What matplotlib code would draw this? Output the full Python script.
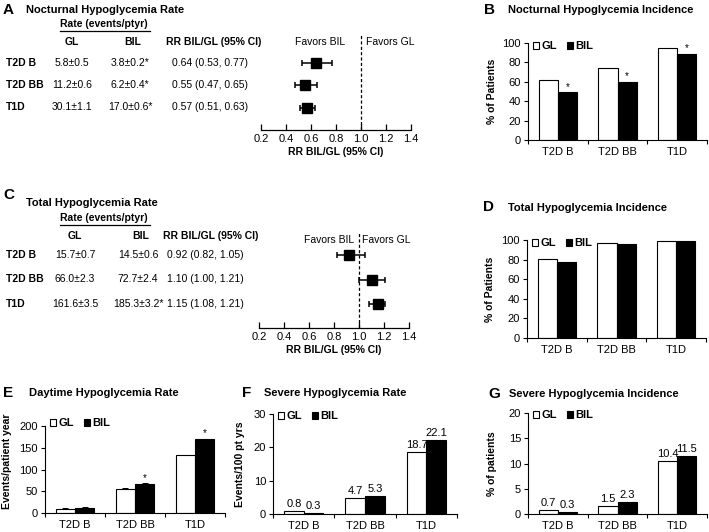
import matplotlib
matplotlib.use("Agg")
import matplotlib.pyplot as plt
import matplotlib.transforms as mtransforms
from matplotlib.patches import Patch
import numpy as np

plt.rcParams['font.family'] = ['Liberation Sans', 'DejaVu Sans']

# ---------------- data ----------------
groups = ['T2D B', 'T2D BB', 'T1D']

# Panel A: nocturnal hypoglycemia rate
A_gl = ['5.8±0.5', '11.2±0.6', '30.1±1.1']
A_bil = ['3.8±0.2*', '6.2±0.4*', '17.0±0.6*']
A_rr = [0.64, 0.55, 0.57]
A_lo = [0.53, 0.47, 0.51]
A_hi = [0.77, 0.65, 0.63]

# Panel C: total hypoglycemia rate
C_gl = ['15.7±0.7', '66.0±2.3', '161.6±3.5']
C_bil = ['14.5±0.6', '72.7±2.4', '185.3±3.2*']
C_rr = [0.92, 1.10, 1.15]
C_lo = [0.82, 1.00, 1.08]
C_hi = [1.05, 1.21, 1.21]

rr_ticks = [0.2, 0.4, 0.6, 0.8, 1.0, 1.2, 1.4]

# Panel B: nocturnal incidence (%)
B_gl = [62, 74, 95]
B_bil = [49, 60, 89]
B_star = [True, True, True]

# Panel D: total incidence (%)
D_gl = [81, 97, 99]
D_bil = [78, 96, 99]

# Panel E: daytime rate (events/patient year)
E_gl = [10, 56, 133]
E_bil = [12, 67, 169]
E_gl_err = [0.8, 1.0, 1.2]
E_bil_err = [0.8, 1.2, 1.5]
E_star = [False, True, True]

# Panel F: severe rate (events/100 pt yrs)
F_gl = [0.8, 4.7, 18.7]
F_bil = [0.3, 5.3, 22.1]

# Panel G: severe incidence (%)
G_gl = [0.7, 1.5, 10.4]
G_bil = [0.3, 2.3, 11.5]

# ---------------- layout helpers ----------------
W, H = 709, 532
fig = plt.figure(figsize=(W / 100, H / 100), dpi=100)


def ax_px(l, t, r, b):
    return fig.add_axes([l / W, 1 - b / H, (r - l) / W, (b - t) / H])


def ftext(x, y, s, **kw):
    fig.text(x / W, 1 - y / H, s, **kw)


LETTER = dict(fontsize=11, fontweight='bold', va='center', ha='left')
TITLE = dict(fontsize=8, fontweight='bold', va='center', ha='left')


# ---------------- forest + table panels ----------------
def forest_panel(rr, lo, hi, gl, bil, axbox, row0, drow, favors, letter, title,
                 letter_y, title_y, sub_y, head_y, cols):
    l, t, r, b = axbox
    ax = ax_px(l, t, r, b)
    n = len(rr)
    idx = np.arange(n)
    ax.set_xlim(0.2, 1.4)
    ax.set_ylim((b - row0) / drow, (t - row0) / drow)
    rr_a = np.array(rr)
    xerr = np.vstack([rr_a - np.array(lo), np.array(hi) - rr_a])
    ax.errorbar(rr, idx, xerr=xerr, fmt='s', color='black', ms=7.5,
                elinewidth=1.1, capsize=2.5, capthick=1.1)
    ax.axvline(1.0, color='black', ls=(0, (2.5, 1.8)), lw=0.9)
    for s in ['top', 'right', 'left']:
        ax.spines[s].set_visible(False)
    ax.spines['bottom'].set_linewidth(0.9)
    ax.set_yticks([])
    ax.set_xticks(rr_ticks)
    ax.set_xticklabels([f'{v:.1f}' for v in rr_ticks])
    ax.tick_params(axis='x', direction='in', length=4, width=0.9,
                   labelsize=8, pad=3)
    ax.set_xlabel('RR BIL/GL (95% CI)', fontsize=7.5, fontweight='bold',
                  labelpad=2)
    (fb_x, fg_x, fav_y) = favors
    ax.text(fb_x, fav_y, 'Favors BIL', ha='right', va='center', fontsize=7.5)
    ax.text(fg_x, fav_y, 'Favors GL', ha='left', va='center', fontsize=7.5)

    # table text, rows tied to the forest rows
    tr = mtransforms.blended_transform_factory(fig.transFigure, ax.transData)
    lab_x, gl_x, bil_x, rr_x, rrh_x = cols
    for i in range(n):
        fig.text(lab_x / W, i, groups[i], transform=tr, ha='left',
                 va='center', fontsize=7.5, fontweight='bold')
        fig.text(gl_x / W, i, gl[i], transform=tr, ha='center',
                 va='center', fontsize=7.5)
        fig.text(bil_x / W, i, bil[i], transform=tr, ha='center',
                 va='center', fontsize=7.5)
        fig.text(rr_x / W, i, f'{rr[i]:.2f} ({lo[i]:.2f}, {hi[i]:.2f})',
                 transform=tr, ha='left', va='center', fontsize=7.5)
    ftext(gl_x, head_y, 'GL', ha='center', va='center', fontsize=7.5,
          fontweight='bold')
    ftext(bil_x + 3, head_y, 'BIL', ha='center', va='center', fontsize=7.5,
          fontweight='bold')
    ftext(rrh_x, head_y, 'RR BIL/GL (95% CI)', ha='left', va='center',
          fontsize=7.5, fontweight='bold')
    ftext(60, sub_y, 'Rate (events/ptyr)', ha='left', va='center',
          fontsize=7.5, fontweight='bold')
    fig.add_artist(plt.Line2D([60 / W, 150 / W],
                              [1 - (sub_y + 7) / H, 1 - (sub_y + 7) / H],
                              color='black', lw=0.9))
    ftext(3, letter_y, letter, **LETTER)
    ftext(26, title_y, title, **TITLE)
    return ax


forest_panel(A_rr, A_lo, A_hi, A_gl, A_bil, (261, 35, 411, 130), 62.5, 22.5,
             (0.875, 1.04, -0.91), 'A', 'Nocturnal Hypoglycemia Rate',
             10, 10, 24, 42, (6, 72, 130, 172, 166))

forest_panel(C_rr, C_lo, C_hi, C_gl, C_bil, (259, 232, 409, 328), 255, 24.5,
             (0.965, 1.025, -0.62), 'C', 'Total Hypoglycemia Rate',
             195, 203, 218, 236, (6, 75, 138, 167, 163))


# ---------------- bar panels ----------------
def bar_panel(box, gl, bil, ymax, step, ylabel, ylab_x, letter, title,
              letter_pos, title_pos, err=None, stars=None, labels=False,
              leg_y=1.0, ylab_y=0.5):
    l, t, r, b = box
    ax = ax_px(l, t, r, b)
    x = np.arange(len(groups))
    w = 0.32
    kw = dict(edgecolor='black', linewidth=0.8)
    if err is not None:
        e_gl, e_bil = err
        ekw = dict(elinewidth=0.7, capsize=2.5, capthick=0.7, ecolor='black')
        ax.bar(x - w / 2, gl, w, color='white', yerr=[np.zeros(3), e_gl],
               error_kw=ekw, **kw)
        ax.bar(x + w / 2, bil, w, color='black', yerr=[np.zeros(3), e_bil],
               error_kw=ekw, **kw)
    else:
        ax.bar(x - w / 2, gl, w, color='white', **kw)
        ax.bar(x + w / 2, bil, w, color='black', **kw)
    if stars is not None:
        top = bil if err is None else np.array(bil) + np.array(err[1])
        for i, s in enumerate(stars):
            if s:
                ax.annotate('*', (x[i] + w / 2, top[i]), xytext=(0, 0.5),
                            textcoords='offset points', ha='center',
                            va='bottom', fontsize=7)
    if labels:
        for i in range(len(groups)):
            ax.annotate(f'{gl[i]:.1f}', (x[i] - w / 2, gl[i]), xytext=(0, 1.5),
                        textcoords='offset points', ha='center', va='bottom',
                        fontsize=8)
            ax.annotate(f'{bil[i]:.1f}', (x[i] + w / 2, bil[i]),
                        xytext=(0, 1.5), textcoords='offset points',
                        ha='center', va='bottom', fontsize=8)
    ax.set_xlim(-0.5, 2.5)
    ax.set_ylim(0, ymax)
    ax.set_yticks(np.arange(0, ymax + 0.01, step))
    ax.set_xticks(x)
    ax.set_xticklabels(groups)
    ax.set_xticks([-0.5, 0.5, 1.5, 2.5], minor=True)
    ax.tick_params(axis='x', which='major', length=0, labelsize=8, pad=5)
    ax.tick_params(axis='x', which='minor', length=3, width=0.8,
                   direction='out')
    ax.tick_params(axis='y', length=3, width=0.8, labelsize=8, pad=2)
    for s in ['top', 'right']:
        ax.spines[s].set_visible(False)
    for s in ['left', 'bottom']:
        ax.spines[s].set_linewidth(0.8)
    ax.set_ylabel(ylabel, fontsize=7.5, fontweight='bold')
    ax.yaxis.set_label_coords(ylab_x, ylab_y)
    handles = [Patch(facecolor='white', edgecolor='black', lw=0.8),
               Patch(facecolor='black', edgecolor='black', lw=0.8)]
    ax.legend(handles, ['GL', 'BIL'], loc='upper left',
              bbox_to_anchor=(0.02, leg_y), ncol=2, frameon=False,
              handlelength=0.6, handleheight=0.6, handletextpad=0.15,
              columnspacing=0.9, borderpad=0.1, borderaxespad=0,
              prop=dict(size=8, weight='bold'))
    ftext(letter_pos[0], letter_pos[1], letter, **LETTER)
    ftext(title_pos[0], title_pos[1], title, **TITLE)
    return ax


bar_panel((528, 43, 707, 140), B_gl, B_bil, 100, 20, '% of Patients', -0.175,
          'B', 'Nocturnal Hypoglycemia Incidence', (484, 10), (508, 10),
          stars=B_star, leg_y=1.03)

bar_panel((527, 240, 706, 338), D_gl, D_bil, 100, 20, '% of Patients', -0.18,
          'D', 'Total Hypoglycemia Incidence', (483, 207), (508, 208),
          leg_y=1.03)

bar_panel((45, 426, 225, 513), E_gl, E_bil, 200, 50, 'Events/patient year',
          -0.185, 'E', 'Daytime Hypoglycemia Rate', (3, 393), (29, 393),
          err=(E_gl_err, E_bil_err), stars=E_star, leg_y=1.1, ylab_y=0.6)

bar_panel((273, 414, 457, 514), F_gl, F_bil, 30, 10, 'Events/100 pt yrs',
          -0.15, 'F', 'Severe Hypoglycemia Rate', (242, 393), (264, 393),
          labels=True, leg_y=1.04)

bar_panel((528, 413, 707, 514), G_gl, G_bil, 20, 5, '% of patients', -0.175,
          'G', 'Severe Hypoglycemia Incidence', (488, 394), (509, 394),
          labels=True, leg_y=1.04)

fig.savefig('out.png', dpi=100)
